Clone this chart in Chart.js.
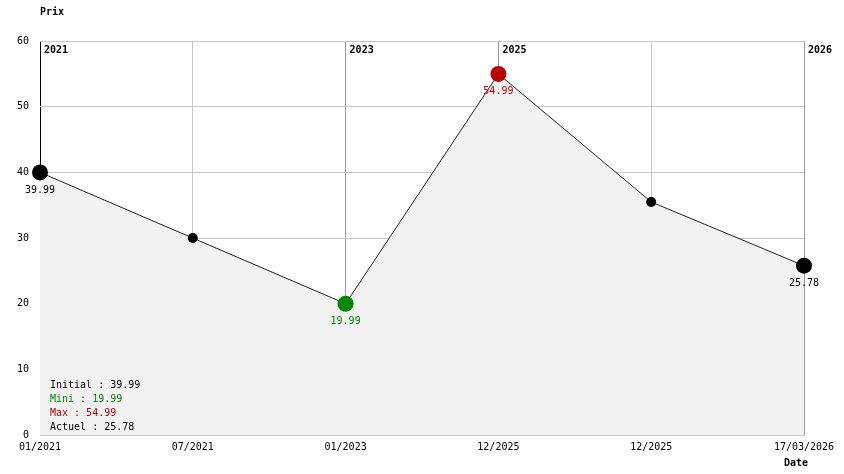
<!DOCTYPE html>
<html>
<head>
<meta charset="utf-8">
<script src="https://cdn.jsdelivr.net/npm/chart.js@4.4.1/dist/chart.umd.min.js"></script>
<style>
  html, body { margin: 0; padding: 0; background: #fff; }
  #wrap { width: 844px; height: 474px; }
</style>
</head>
<body>
<div id="wrap"><canvas id="prixChart"></canvas></div>
<script>
const dates = ['01/2021', '07/2021', '01/2023', '12/2025', '12/2025', '17/03/2026'];
const prix = [39.99, 29.99, 19.99, 54.99, 35.49, 25.78];
const yearMarks = [0, 2, 3, 5];
const yearLabels = ['2021', '2023', '2025', '2026'];
const yTicks = [0, 10, 20, 30, 40, 50, 60];

const FONT = '"DejaVu Sans Mono", "Liberation Mono", monospace';
const GREEN = '#008800';
const RED = '#bb0000';

const iMin = prix.indexOf(Math.min(...prix));
const iMax = prix.indexOf(Math.max(...prix));
const iLast = prix.length - 1;
const special = [0, iMin, iMax, iLast];

function pointColor(i) {
  if (i === iMin) return GREEN;
  if (i === iMax) return RED;
  return '#000';
}

const labelsPlugin = {
  id: 'labelsPlugin',
  afterDatasetsDraw(chart) {
    const c = chart.ctx;
    const x = chart.scales.x;
    const area = chart.chartArea;
    const pts = chart.getDatasetMeta(0).data;
    c.save();
    c.textBaseline = 'middle';

    // annees en haut des lignes
    c.font = 'bold 10px ' + FONT;
    c.fillStyle = '#000';
    c.textAlign = 'left';
    yearMarks.forEach((idx, k) => {
      c.fillText(yearLabels[k], x.getPixelForValue(idx) + 4, area.top + 9);
    });

    // valeurs sous les points
    c.font = '10px ' + FONT;
    c.textAlign = 'center';
    special.forEach(i => {
      c.fillStyle = pointColor(i);
      c.fillText(prix[i].toFixed(2), pts[i].x, pts[i].y + 18);
    });

    // resume
    c.textAlign = 'left';
    const lines = [
      ['Initial : ' + prix[0].toFixed(2), '#000'],
      ['Mini : ' + prix[iMin].toFixed(2), GREEN],
      ['Max : ' + prix[iMax].toFixed(2), RED],
      ['Actuel : ' + prix[iLast].toFixed(2), '#000']
    ];
    lines.forEach((l, k) => {
      c.fillStyle = l[1];
      c.fillText(l[0], area.left + 10, area.bottom - 50 + k * 14);
    });

    // titres des axes
    c.font = 'bold 10px ' + FONT;
    c.fillStyle = '#000';
    c.fillText('Prix', area.left, 12);
    c.fillText('Date', area.right - 20, chart.height - 11);
    c.restore();
  }
};

window.onload = () => {
  const ctx = document.getElementById('prixChart');
  new Chart(ctx, {
    type: 'line',
    data: {
      labels: dates,
      datasets: [{
        data: prix,
        borderColor: '#222',
        borderWidth: 1,
        backgroundColor: '#f2f2f2',
        fill: 'origin',
        tension: 0,
        pointRadius: prix.map((v, i) => special.includes(i) ? 8 : 5),
        pointBackgroundColor: prix.map((v, i) => pointColor(i)),
        pointBorderWidth: 0
      }]
    },
    options: {
      responsive: true,
      maintainAspectRatio: false,
      animation: false,
      layout: { padding: { top: 41, right: 40, left: 0, bottom: 0 } },
      plugins: {
        legend: { display: false },
        tooltip: { enabled: false }
      },
      scales: {
        x: {
          offset: false,
          afterFit: s => { s.height = 39; },
          border: { display: false },
          grid: {
            drawTicks: false,
            color: c => c.index === 0 ? '#000' : (yearMarks.includes(c.index) ? '#999' : '#c8c8c8')
          },
          ticks: {
            padding: 6,
            maxRotation: 0,
            autoSkip: false,
            color: '#000',
            font: { family: FONT, size: 10 }
          }
        },
        y: {
          min: 0,
          max: 60,
          afterFit: s => { s.width = 40; },
          afterBuildTicks: s => { s.ticks = yTicks.map(v => ({ value: v })); },
          border: { display: false },
          grid: { drawTicks: false, color: '#c8c8c8' },
          ticks: {
            padding: 11,
            color: '#000',
            font: { family: FONT, size: 10 }
          }
        }
      }
    },
    plugins: [labelsPlugin]
  });
};
</script>
</body>
</html>
